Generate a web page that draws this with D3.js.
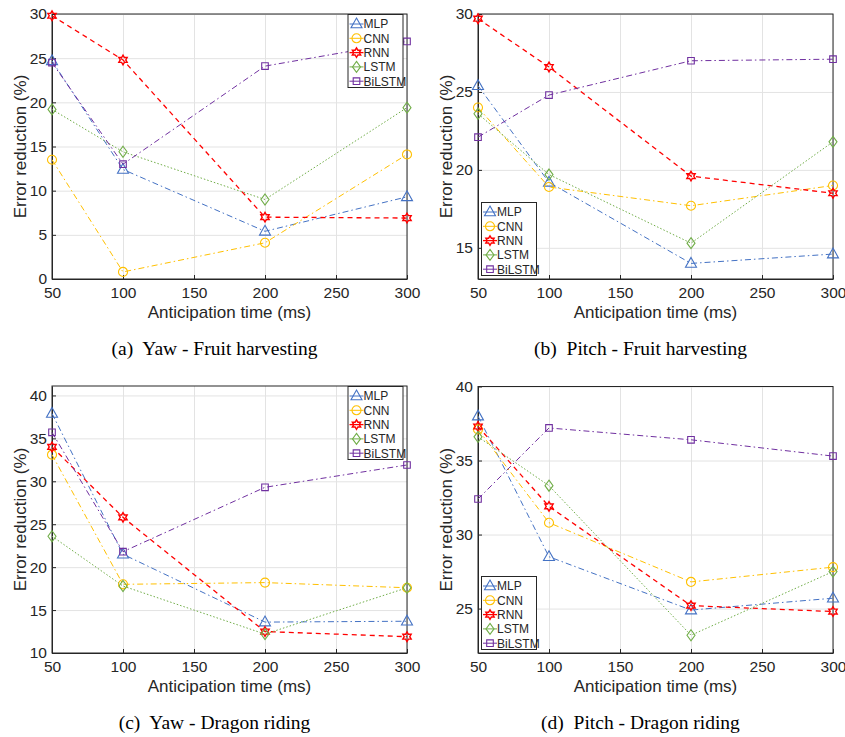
<!DOCTYPE html>
<html>
<head>
<meta charset="utf-8">
<script src="https://cdn.jsdelivr.net/npm/d3@7"></script>
<style>
  body { margin: 0; background: #fff; }
  svg { display: block; }
  text { font-family: "Liberation Sans", Arial, Helvetica, sans-serif; fill: #262626; }
  .caption { font-family: "Liberation Serif", "Times New Roman", serif; fill: #000; white-space: pre; }
</style>
</head>
<body>
<div id="chart"></div>
<script>
// anticipation times and model names
const times = [50, 100, 200, 300];
const models = ['MLP', 'CNN', 'RNN', 'LSTM', 'BiLSTM'];
const xTicks = [50, 100, 150, 200, 250, 300];

// error reduction (%), one row per model in the order above
const yawFruit = [
  [24.7, 12.4, 5.4, 9.3],
  [13.5, 0.8, 4.1, 14.1],
  [29.8, 24.8, 7.0, 6.9],
  [19.2, 14.4, 9.0, 19.4],
  [24.5, 13.0, 24.1, 26.9]
];
const pitchFruit = [
  [25.4, 19.2, 14.0, 14.6],
  [24.0, 18.9, 17.7, 19.0],
  [29.7, 26.6, 19.6, 18.5],
  [23.6, 19.7, 15.3, 21.8],
  [22.1, 24.8, 27.0, 27.1]
];
const yawDragon = [
  [37.9, 21.5, 13.6, 13.7],
  [33.1, 18.0, 18.2, 17.6],
  [34.0, 25.8, 12.5, 11.9],
  [23.6, 17.8, 12.2, 17.6],
  [35.7, 21.8, 29.3, 31.9]
];
const pitchDragon = [
  [38.0, 28.5, 24.9, 25.7],
  [37.1, 30.8, 26.8, 27.8],
  [37.3, 31.9, 25.2, 24.8],
  [36.6, 33.3, 23.2, 27.5],
  [32.4, 37.2, 36.4, 35.3]
];

// y axis ticks per panel
const yawFruitTicks = [0, 5, 10, 15, 20, 25, 30];
const pitchFruitTicks = [15, 20, 25, 30];
const yawDragonTicks = [10, 15, 20, 25, 30, 35, 40];
const pitchDragonTicks = [25, 30, 35, 40];

const captions = ['(a)  Yaw - Fruit harvesting', '(b)  Pitch - Fruit harvesting',
                  '(c)  Yaw - Dragon riding', '(d)  Pitch - Dragon riding'];

const colors = ['#4472C4', '#FFC000', '#FF0000', '#70AD47', '#7030A0'];
const dashes = ['6,3,1.5,3', '6,3,1.5,3', '5,4', '1.5,2', '6,3,1.5,3'];
const widths = [1, 1, 1.3, 1, 1];

const panels = [
  { data: yawFruit, ticks: yawFruitTicks, domain: [0, 30], left: 52, top: 14, bottom: 279, legend: 'tr', caption: captions[0] },
  { data: pitchFruit, ticks: pitchFruitTicks, domain: [13, 30], left: 478, top: 14, bottom: 279, legend: 'bl', caption: captions[1] },
  { data: yawDragon, ticks: yawDragonTicks, domain: [10, 41.1], left: 52, top: 386, bottom: 653, legend: 'tr', caption: captions[2] },
  { data: pitchDragon, ticks: pitchDragonTicks, domain: [22, 40], left: 478, top: 386.5, bottom: 653, legend: 'bl', caption: captions[3] }
];
const plotW = 355;

const svg = d3.select('#chart').append('svg')
  .attr('width', 845)
  .attr('height', 737);

// marker shapes, drawn around (0,0)
function hexagram(r) {
  const pts = [];
  for (let i = 0; i < 12; i++) {
    const a = Math.PI / 6 * i - Math.PI / 2;
    const rr = i % 2 === 0 ? r : r / Math.sqrt(3);
    pts.push([rr * Math.cos(a), rr * Math.sin(a)]);
  }
  return 'M' + pts.map(p => p.join(',')).join('L') + 'Z';
}
function markerPath(i) {
  if (i === 0) return 'M0,-6L5.5,3.8L-5.5,3.8Z';
  if (i === 1) return d3.symbol(d3.symbolCircle, 64)();
  if (i === 2) return hexagram(4.8);
  if (i === 3) return 'M0,-5.5L4,0L0,5.5L-4,0Z';
  return 'M-3.3,-3.3L3.3,-3.3L3.3,3.3L-3.3,3.3Z';
}

panels.forEach(p => {
  const h = p.bottom - p.top;
  const x = d3.scaleLinear().domain([50, 300]).range([0, plotW]);
  const y = d3.scaleLinear().domain(p.domain).range([h, 0]);
  const g = svg.append('g').attr('transform', `translate(${p.left},${p.top})`);

  // grid
  g.append('g')
    .attr('transform', `translate(0,${h})`)
    .call(d3.axisBottom(x).tickValues(xTicks).tickSize(-h).tickFormat(''))
    .call(s => s.select('.domain').remove())
    .selectAll('line').attr('stroke', '#e3e3e3');
  g.append('g')
    .call(d3.axisLeft(y).tickValues(p.ticks).tickSize(-plotW).tickFormat(''))
    .call(s => s.select('.domain').remove())
    .selectAll('line').attr('stroke', '#e3e3e3');

  // box
  g.append('rect')
    .attr('width', plotW).attr('height', h)
    .attr('fill', 'none').attr('stroke', '#262626').attr('stroke-width', 1);

  // axes
  const xa = g.append('g')
    .attr('transform', `translate(0,${h})`)
    .call(d3.axisBottom(x).tickValues(xTicks).tickSize(-4).tickPadding(8).tickSizeOuter(0));
  const ya = g.append('g')
    .call(d3.axisLeft(y).tickValues(p.ticks).tickSize(-4).tickPadding(5).tickSizeOuter(0));
  [xa, ya].forEach(a => {
    a.select('.domain').attr('stroke', '#262626');
    a.selectAll('line').attr('stroke', '#262626');
    a.selectAll('text')
      .attr('fill', '#262626')
      .style('font-family', '"Liberation Sans", Arial, sans-serif')
      .style('font-size', '15.5px');
  });

  // axis labels
  g.append('text')
    .attr('x', plotW / 2).attr('y', h + 39)
    .attr('text-anchor', 'middle')
    .style('font-size', '17px')
    .text('Anticipation time (ms)');
  g.append('text')
    .attr('transform', `translate(-26,${h / 2}) rotate(-90)`)
    .attr('text-anchor', 'middle')
    .style('font-size', '17px')
    .text('Error reduction (%)');

  // series
  const line = d3.line().x((d, i) => x(times[i])).y(d => y(d));
  p.data.forEach((vals, m) => {
    g.append('path')
      .datum(vals)
      .attr('d', line)
      .attr('fill', 'none')
      .attr('stroke', colors[m])
      .attr('stroke-width', widths[m])
      .attr('stroke-dasharray', dashes[m]);
    g.selectAll(null)
      .data(vals)
      .enter()
      .append('path')
      .attr('d', markerPath(m))
      .attr('transform', (d, i) => `translate(${x(times[i])},${y(d)})`)
      .attr('fill', 'none')
      .attr('stroke', colors[m])
      .attr('stroke-width', m === 2 ? 1.4 : 1.1);
  });

  // legend
  const lw = 55, lh = 73;
  const lx = p.legend === 'tr' ? plotW - lw - 4 : 3.5;
  const ly = p.legend === 'tr' ? 0.5 : h - lh - 3.5;
  const lg = g.append('g').attr('transform', `translate(${lx},${ly})`);
  lg.append('rect')
    .attr('width', lw).attr('height', lh)
    .attr('fill', '#fff').attr('stroke', '#262626').attr('stroke-width', 1);
  models.forEach((name, m) => {
    const cy = 9.5 + m * 14.3;
    lg.append('line')
      .attr('x1', 1.5).attr('x2', 15.5).attr('y1', cy).attr('y2', cy)
      .attr('stroke', colors[m]).attr('stroke-width', widths[m]);
    lg.append('path')
      .attr('d', markerPath(m))
      .attr('transform', `translate(8.5,${cy})`)
      .attr('fill', 'none').attr('stroke', colors[m])
      .attr('stroke-width', m === 2 ? 1.4 : 1.1);
    lg.append('text')
      .attr('x', 15.5).attr('y', cy + 4.3)
      .style('font-size', '12px')
      .text(name);
  });

  // caption
  svg.append('text')
    .attr('class', 'caption')
    .attr('x', p.left + plotW / 2 - 15).attr('y', p.bottom + 76)
    .attr('text-anchor', 'middle')
    .style('font-size', '19.5px')
    .text(p.caption);
});
</script>
</body>
</html>
